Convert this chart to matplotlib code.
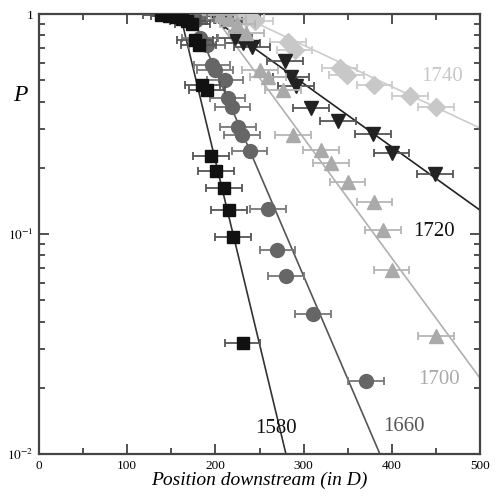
import matplotlib
matplotlib.use("Agg")
import matplotlib.pyplot as plt
import numpy as np
from matplotlib.ticker import FixedLocator, NullFormatter, LogLocator

# ---- data ----
sq_x = [138, 147, 155, 162, 168, 174, 177, 181, 185, 190.5, 195, 200.7, 209.8, 215.4, 220, 231]
sq_p = [0.99, 0.98, 0.97, 0.95, 0.93, 0.90, 0.76, 0.72, 0.475, 0.451, 0.226, 0.193, 0.162, 0.129, 0.097, 0.032]

ci_x = [160, 170, 178, 182.5, 190.5, 196, 199.5, 211, 214, 219, 225.6, 230, 239, 259.6, 270, 280, 310.7, 370.7]
ci_p = [0.99, 0.97, 0.94, 0.778, 0.723, 0.586, 0.556, 0.501, 0.415, 0.378, 0.306, 0.282, 0.238, 0.130, 0.0846, 0.0645, 0.0433, 0.0215]

tu_x = [205, 215, 225, 235, 250.6, 259.6, 276.6, 288, 319.7, 331, 350, 380, 390, 400, 450]
tu_p = [0.99, 0.95, 0.90, 0.82, 0.556, 0.517, 0.451, 0.282, 0.241, 0.210, 0.172, 0.140, 0.104, 0.0686, 0.0344]

td_x = [200, 210, 222, 231, 241.5, 279, 285.7, 291.4, 308.4, 339, 378.7, 400, 449]
td_p = [0.98, 0.93, 0.778, 0.738, 0.708, 0.611, 0.517, 0.471, 0.374, 0.326, 0.285, 0.233, 0.1875]

di_x = [225, 235, 245, 282.3, 290, 341, 349, 380, 420.6, 450]
di_p = [0.99, 0.96, 0.93, 0.746, 0.686, 0.568, 0.528, 0.476, 0.424, 0.378]

x_err = 20

# exponential fits: P = 10**(-slope*(x - x0)) for x > x0
fit_labels = ["1580", "1660", "1700", "1720", "1740"]
fit_x0 = [160.0, 172.6, 196.8, 190.0, 224.6]
fit_slope = [0.01667, 0.00935, 0.00546, 0.002876, 0.001882]

label_pos_x = [245, 390, 430, 424, 433]
label_pos_p = [0.0131, 0.0134, 0.0218, 0.103, 0.518]

x_ticks = [0, 100, 200, 300, 400, 500]

# ---- style ----
plt.rcParams['font.family'] = ['Liberation Serif', 'DejaVu Serif']
plt.rcParams['mathtext.fontset'] = 'stix'

colors = ["#111111", "#666666", "#aaaaaa", "#222222", "#c8c8c8"]
ecolors = ["#555555", "#777777", "#b5b5b5", "#555555", "#cccccc"]
linecolors = ["#333333", "#555555", "#b0b0b0", "#222222", "#cccccc"]
labelcolors = ["#111111", "#555555", "#aaaaaa", "#111111", "#c8c8c8"]
markers = ["s", "o", "^", "v", "D"]
msizes = [8.5, 10, 10.5, 10.5, 9]

fig = plt.figure(figsize=(4.98, 4.97), dpi=100)
ax = fig.add_axes([0.0783, 0.0865, 0.8856, 0.8853])
ax.set_yscale('log')
ax.set_xlim(0, 500)
ax.set_ylim(0.01, 1)

series = [(sq_x, sq_p), (ci_x, ci_p), (tu_x, tu_p), (td_x, td_p), (di_x, di_p)]

# fit lines
for i in range(5):
    x0, s = fit_x0[i], fit_slope[i]
    xe = min(500, x0 + 2.0 / s)
    xs = np.linspace(x0, xe, 50)
    ax.plot(xs, 10 ** (-s * (xs - x0)), color=linecolors[i], lw=1.2, zorder=2)

# data points (draw lighter series first)
for i in [4, 2, 3, 1, 0]:
    xs, ps = series[i]
    ax.errorbar(xs, ps, xerr=x_err, fmt=markers[i], color=colors[i],
                ecolor=ecolors[i], elinewidth=1.3, capsize=3, capthick=1.3,
                ms=msizes[i], mec=colors[i], zorder=3 + (4 - i))

for i in range(5):
    ax.text(label_pos_x[i], label_pos_p[i], fit_labels[i], color=labelcolors[i],
            fontsize=15, ha='left', va='center', zorder=10)

# ticks
ax.xaxis.set_major_locator(FixedLocator(x_ticks))
ax.xaxis.set_minor_locator(FixedLocator([50, 150, 250, 350, 450]))
ax.set_xticklabels([str(t) for t in x_ticks], fontsize=9.5)
ax.yaxis.set_major_locator(FixedLocator([0.01, 0.1, 1]))
ax.set_yticklabels([r'$10^{-2}$', r'$10^{-1}$', '1'], fontsize=9.5)
ax.yaxis.set_minor_locator(LogLocator(base=10, subs=np.arange(2, 10)))
ax.yaxis.set_minor_formatter(NullFormatter())
ax.tick_params(which='both', direction='in', top=True, right=True, color='#333333')
ax.tick_params(which='major', length=7, width=1.2, pad=4)
ax.tick_params(which='minor', length=4, width=1.2)
for sp in ax.spines.values():
    sp.set_linewidth(1.6)
    sp.set_color('#444444')

ax.set_xlabel('Position downstream (in D)', fontsize=14, style='italic', labelpad=0)
fig.text(0.04, 0.808, 'P', fontsize=17, style='italic', ha='center', va='center')

fig.savefig('out.png', dpi=100)
